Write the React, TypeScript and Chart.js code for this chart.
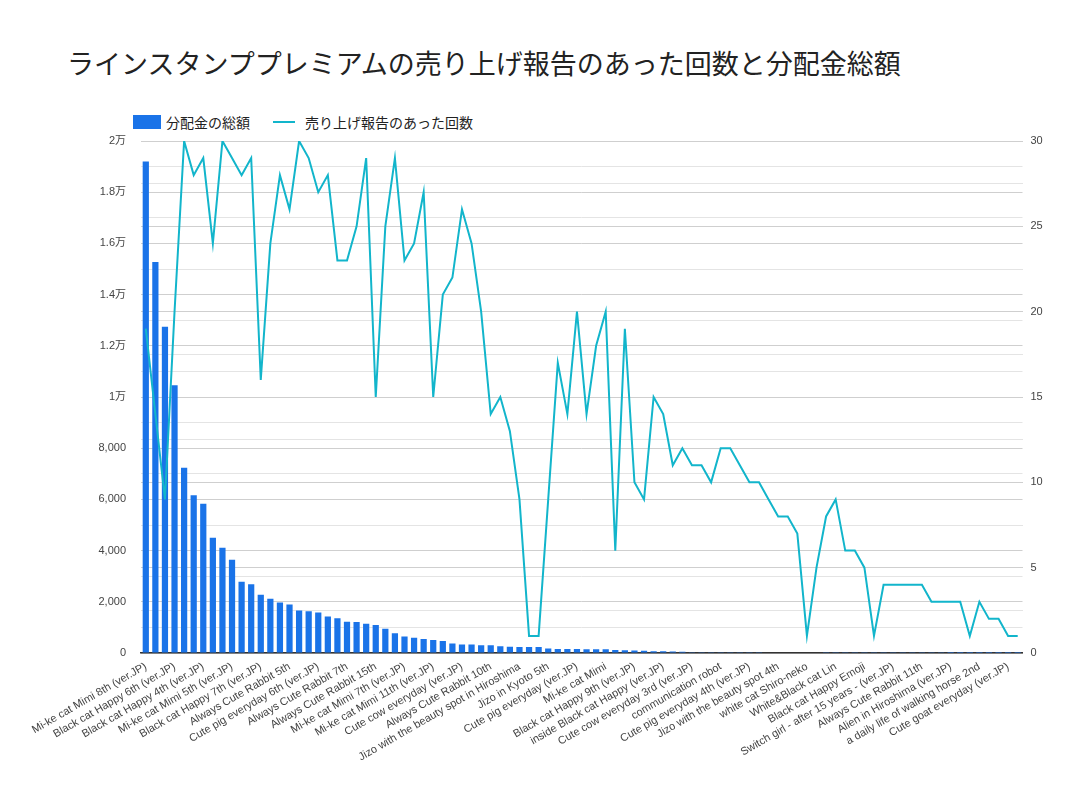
import { useEffect, useRef } from "react";
import { Chart, registerables } from "chart.js";

Chart.register(...registerables);

const TITLE = "ラインスタンププレミアムの売り上げ報告のあった回数と分配金総額";
const BAR_LABEL = "分配金の総額";
const LINE_LABEL = "売り上げ報告のあった回数";

// only every third sticker name is printed on the axis
const shownLabels = [
  "Mi-ke cat Mimi 8th (ver.JP)",
  "Black cat Happy 6th (ver.JP)",
  "Black cat Happy 4th (ver.JP)",
  "Mi-ke cat Mimi 5th (ver.JP)",
  "Black cat Happy 7th (ver.JP)",
  "Always Cute Rabbit 5th",
  "Cute pig everyday 6th (ver.JP)",
  "Always Cute Rabbit 7th",
  "Always Cute Rabbit 15th",
  "Mi-ke cat Mimi 7th (ver.JP)",
  "Mi-ke cat Mimi 11th (ver.JP)",
  "Cute cow everyday (ver.JP)",
  "Always Cute Rabbit 10th",
  "Jizo with the beauty spot in Hiroshima",
  "Jizo in Kyoto 5th",
  "Cute pig everyday (ver.JP)",
  "Mi-ke cat Mimi",
  "Black cat Happy 9th (ver.JP)",
  "inside Black cat Happy (ver.JP)",
  "Cute cow everyday 3rd (ver.JP)",
  "communication robot",
  "Cute pig everyday 4th (ver.JP)",
  "Jizo with the beauty spot 4th",
  "white cat Shiro-neko",
  "White&Black cat Lin",
  "Black cat Happy Emoji",
  "Switch girl - after 15 years - (ver.JP)",
  "Always Cute Rabbit 11th",
  "Alien in Hiroshima (ver.JP)",
  "a daily life of walking horse 2nd",
  "Cute goat everyday (ver.JP)",
];

// 分配金の総額 (yen)
const payouts = [
  19200, 15270, 12740, 10460, 7240, 6160, 5830, 4500, 4110, 3640,
  2780, 2690, 2280, 2120, 1970, 1890, 1660, 1630, 1580, 1430,
  1360, 1220, 1210, 1140, 1090, 950, 770, 640, 600, 550,
  510, 470, 370, 330, 330, 300, 300, 260, 240, 235,
  230, 230, 180, 160, 155, 155, 150, 150, 150, 115,
  110, 100, 85, 70, 70, 55, 45, 30, 30, 28,
  28, 26, 26, 25, 25, 24, 22, 20, 20, 15,
  15, 14, 12, 12, 10, 10, 9, 8, 8, 7,
  6, 5, 5, 5, 4, 4, 3, 3, 3, 2,
  2, 1,
];

// 売り上げ報告のあった回数
const reportCounts = [
  19, 14, 9, 20, 30, 28, 29, 24, 30, 29,
  28, 29, 16, 24, 28, 26, 30, 29, 27, 28,
  23, 23, 25, 29, 15, 25, 29, 23, 24, 27,
  15, 21, 22, 26, 24, 20, 14, 15, 13, 9,
  1, 1, 9, 17, 14, 20, 14, 18, 20, 6,
  19, 10, 9, 15, 14, 11, 12, 11, 11, 10,
  12, 12, 11, 10, 10, 9, 8, 8, 7, 1,
  5, 8, 9, 6, 6, 5, 1, 4, 4, 4,
  4, 4, 3, 3, 3, 3, 1, 3, 2, 2,
  1, 1,
];

const categories = payouts.map((_, i) => (i % 3 === 0 ? shownLabels[i / 3] : ""));

const FONT = "'Liberation Sans', Arial, 'Noto Sans CJK JP', sans-serif";
const BAR_COLOR = "#1a73e8";
const LINE_COLOR = "#12b5cb";

function fmtYen(v: number) {
  if (v >= 10000) return +(v / 10000).toFixed(1) + "万";
  return v.toLocaleString("en-US");
}

export default function App() {
  const ref = useRef<HTMLCanvasElement>(null);

  useEffect(() => {
    document.body.style.margin = "0";
    if (!ref.current) return;
    const chart = new Chart(ref.current, {
      type: "bar",
      data: {
        labels: categories,
        datasets: [
          {
            type: "bar",
            label: BAR_LABEL,
            data: payouts,
            backgroundColor: BAR_COLOR,
            categoryPercentage: 1,
            barPercentage: 0.65,
            yAxisID: "y",
            order: 2,
          },
          {
            type: "line",
            label: LINE_LABEL,
            data: reportCounts,
            borderColor: LINE_COLOR,
            borderWidth: 2,
            pointRadius: 0,
            tension: 0,
            yAxisID: "y1",
            order: 1,
          },
        ],
      },
      options: {
        responsive: true,
        maintainAspectRatio: false,
        animation: false,
        layout: { padding: { top: 141, left: 0, right: 0, bottom: 0 } },
        plugins: { legend: { display: false }, title: { display: false } },
        scales: {
          x: {
            offset: true,
            grid: { display: false, drawTicks: false },
            border: { color: "#333", width: 1.5 },
            ticks: {
              autoSkip: false,
              minRotation: 30,
              maxRotation: 30,
              padding: 7,
              color: "#444",
              font: { family: FONT, size: 11 },
            },
            afterFit: (s) => {
              s.height = 144;
            },
          },
          y: {
            position: "left",
            min: 0,
            max: 20000,
            grid: {
              drawTicks: false,
              color: (c) => (c.tick && c.tick.value % 2000 === 0 ? "#cfcfcf" : "#e4e4e4"),
            },
            border: { display: false },
            ticks: {
              stepSize: 1000,
              padding: 15,
              color: "#444",
              font: { family: FONT, size: 11 },
              callback: (v) => (Number(v) % 2000 === 0 ? fmtYen(Number(v)) : ""),
            },
            afterFit: (s) => {
              s.width = 141;
            },
          },
          y1: {
            position: "right",
            min: 0,
            max: 30,
            grid: {
              drawTicks: false,
              color: (c) => (c.tick && c.tick.value % 5 === 0 ? "#cfcfcf" : "#e4e4e4"),
            },
            border: { display: false },
            ticks: {
              stepSize: 2.5,
              padding: 8,
              color: "#444",
              font: { family: FONT, size: 11 },
              callback: (v) => (Number(v) % 5 === 0 ? String(v) : ""),
            },
            afterFit: (s) => {
              s.width = 43.5;
            },
          },
        },
      },
    });
    return () => {
      chart.destroy();
    };
  }, []);

  return (
    <div style={{ position: "relative", width: 1066, height: 797, background: "#fff" }}>
      <div
        style={{
          position: "absolute",
          left: 67,
          top: 47,
          fontFamily: "'Noto Sans CJK JP', sans-serif",
          fontSize: 27,
          lineHeight: "32px",
          color: "#222",
          whiteSpace: "nowrap",
        }}
      >
        {TITLE}
      </div>
      <div
        style={{
          position: "absolute",
          left: 133,
          top: 113,
          display: "flex",
          alignItems: "center",
          fontFamily: "'Noto Sans CJK JP', sans-serif",
          fontSize: 14,
          lineHeight: "18px",
          color: "#222",
        }}
      >
        <span style={{ display: "inline-block", width: 28, height: 14, background: BAR_COLOR, marginRight: 5 }} />
        <span>{BAR_LABEL}</span>
        <span
          style={{ display: "inline-block", width: 22, height: 2, background: LINE_COLOR, marginLeft: 23, marginRight: 10 }}
        />
        <span>{LINE_LABEL}</span>
      </div>
      <div style={{ position: "absolute", left: 0, top: 0, width: 1066, height: 797 }}>
        <canvas ref={ref} />
      </div>
    </div>
  );
}
